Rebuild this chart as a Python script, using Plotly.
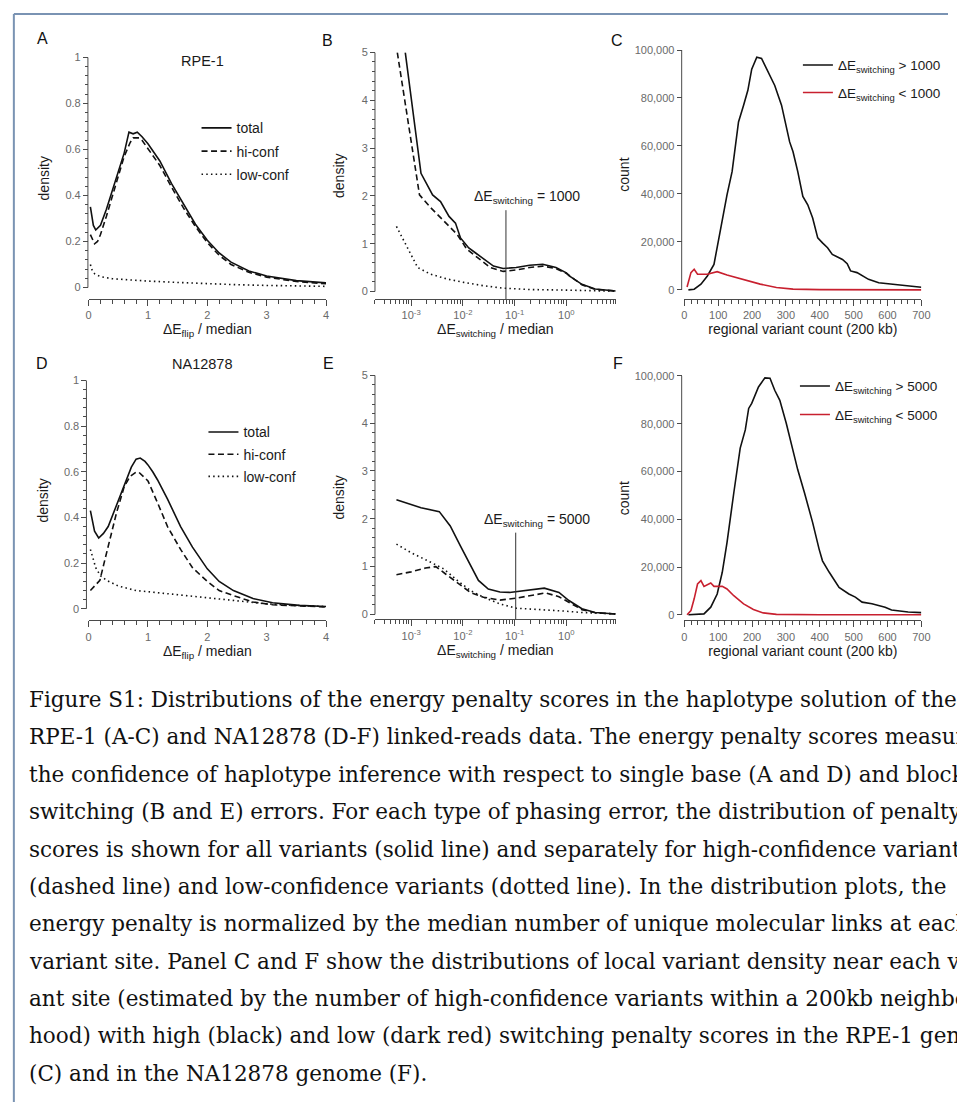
import math
import plotly.graph_objects as go

W, H = 957, 1103

# ---------------- data ----------------
# Panel A (RPE-1, dE_flip / median)
A_x_total = [0.03, 0.08, 0.12, 0.2, 0.3, 0.4, 0.5, 0.6, 0.68, 0.75, 0.82, 0.9, 1.0, 1.2, 1.4, 1.6, 1.8, 2.0, 2.2, 2.4, 2.7, 3.0, 3.5, 4.0]
A_total = [0.35, 0.27, 0.25, 0.27, 0.34, 0.42, 0.50, 0.585, 0.675, 0.668, 0.675, 0.655, 0.625, 0.55, 0.45, 0.36, 0.275, 0.205, 0.15, 0.11, 0.072, 0.05, 0.03, 0.02]
A_x_hi = [0.03, 0.1, 0.15, 0.2, 0.3, 0.4, 0.5, 0.6, 0.7, 0.75, 0.8, 0.85, 0.9, 1.0, 1.2, 1.4, 1.6, 1.8, 2.0, 2.2, 2.4, 2.7, 3.0, 3.5, 4.0]
A_hi = [0.23, 0.19, 0.20, 0.23, 0.31, 0.40, 0.49, 0.57, 0.63, 0.65, 0.65, 0.65, 0.64, 0.605, 0.53, 0.435, 0.345, 0.265, 0.195, 0.14, 0.10, 0.066, 0.045, 0.026, 0.016]
A_x_low = [0.03, 0.06, 0.1, 0.2, 0.4, 0.7, 1.0, 1.5, 2.0, 2.5, 3.0, 3.5, 4.0]
A_low = [0.10, 0.075, 0.06, 0.047, 0.038, 0.032, 0.028, 0.022, 0.016, 0.012, 0.009, 0.007, 0.005]

# Panel D (NA12878, dE_flip / median)
D_x_total = [0.03, 0.1, 0.17, 0.25, 0.33, 0.45, 0.55, 0.65, 0.72, 0.8, 0.87, 0.95, 1.0, 1.08, 1.16, 1.33, 1.55, 1.75, 2.0, 2.2, 2.44, 2.77, 3.1, 3.55, 4.0]
D_total = [0.43, 0.34, 0.31, 0.33, 0.36, 0.44, 0.51, 0.58, 0.62, 0.655, 0.66, 0.645, 0.63, 0.60, 0.565, 0.48, 0.36, 0.27, 0.175, 0.12, 0.08, 0.045, 0.027, 0.015, 0.01]
D_x_hi = [0.03, 0.1, 0.19, 0.26, 0.33, 0.47, 0.6, 0.7, 0.8, 0.85, 0.92, 1.0, 1.16, 1.33, 1.55, 1.75, 2.0, 2.2, 2.44, 2.77, 3.1, 3.55, 4.0]
D_hi = [0.08, 0.10, 0.125, 0.20, 0.275, 0.42, 0.535, 0.58, 0.598, 0.597, 0.58, 0.56, 0.465, 0.36, 0.26, 0.18, 0.12, 0.08, 0.058, 0.03, 0.018, 0.012, 0.008]
D_x_low = [0.03, 0.08, 0.12, 0.2, 0.3, 0.5, 0.8, 1.0, 1.5, 2.0, 2.5, 3.0, 3.5, 4.0]
D_low = [0.26, 0.21, 0.18, 0.145, 0.125, 0.10, 0.08, 0.075, 0.062, 0.048, 0.035, 0.022, 0.015, 0.01]

# Panel B (RPE-1, dE_switching / median, log x)
B_x_total = [7.7e-4, 1.55e-3, 2.6e-3, 3.7e-3, 5.4e-3, 7.2e-3, 9e-3, 0.013, 0.0174, 0.025, 0.039, 0.06, 0.107, 0.195, 0.35, 0.63, 1.0, 1.12, 2.0, 3.6, 9.0]
B_total = [5.0, 2.47, 2.02, 1.88, 1.57, 1.43, 1.12, 0.91, 0.81, 0.69, 0.53, 0.48, 0.50, 0.55, 0.57, 0.50, 0.39, 0.33, 0.15, 0.05, 0.01]
B_x_hi = [5.4e-4, 1.45e-3, 2.4e-3, 4.3e-3, 7.8e-3, 0.012, 0.0187, 0.034, 0.06, 0.107, 0.195, 0.35, 0.63, 1.0, 2.0, 3.6, 9.0]
B_hi = [5.0, 2.02, 1.75, 1.47, 1.19, 0.88, 0.71, 0.50, 0.42, 0.45, 0.50, 0.53, 0.48, 0.38, 0.14, 0.045, 0.01]
B_x_low = [5.2e-4, 8.7e-4, 1.34e-3, 2.4e-3, 5e-3, 0.0105, 0.025, 0.06, 0.195, 0.9, 3.0, 9.0]
B_low = [1.36, 0.91, 0.50, 0.36, 0.26, 0.19, 0.12, 0.07, 0.04, 0.03, 0.01, 0.005]
B_threshold = 0.068
B_threshold_top = 1.70

# Panel E (NA12878, dE_switching / median, log x)
E_x_total = [5.2e-4, 1.55e-3, 3.5e-3, 5.7e-3, 9e-3, 0.014, 0.02, 0.031, 0.052, 0.08, 0.168, 0.375, 0.72, 1.12, 2.0, 3.6, 9.0]
E_total = [2.40, 2.23, 2.15, 1.85, 1.43, 1.02, 0.71, 0.53, 0.47, 0.46, 0.50, 0.55, 0.46, 0.29, 0.12, 0.04, 0.01]
E_x_hi = [5.2e-4, 1e-3, 1.9e-3, 3e-3, 4.7e-3, 7.8e-3, 0.014, 0.025, 0.052, 0.107, 0.195, 0.40, 0.72, 1.12, 2.0, 3.6, 9.0]
E_hi = [0.83, 0.89, 0.97, 1.0, 0.84, 0.66, 0.46, 0.36, 0.30, 0.34, 0.39, 0.45, 0.37, 0.25, 0.10, 0.035, 0.008]
E_x_low = [5.2e-4, 1e-3, 2.4e-3, 4.3e-3, 7.8e-3, 0.014, 0.025, 0.052, 0.107, 0.25, 0.9, 2.0, 5.0, 9.0]
E_low = [1.47, 1.29, 1.09, 0.95, 0.71, 0.50, 0.36, 0.22, 0.13, 0.11, 0.07, 0.04, 0.02, 0.01]
E_threshold = 0.105
E_threshold_top = 1.71

# Panel C (RPE-1 regional variant count)
C_x_high = [12, 29, 49, 68, 87.5, 102, 112, 126, 141, 160, 175, 187.6, 199, 214, 228, 253, 267, 287, 311, 321, 335, 350, 364.5, 379, 394, 408, 423, 437, 467, 481, 491, 510, 544, 574, 612, 651, 690, 700]
C_high = [0, 300, 2400, 5800, 10600, 21700, 28600, 39600, 49300, 70000, 77000, 83200, 92000, 97000, 96500, 89400, 85200, 77000, 61700, 57600, 49300, 39000, 35500, 30000, 21700, 19600, 17600, 14800, 12700, 10900, 7900, 7200, 4400, 3000, 2400, 1700, 1200, 1100]
C_x_low = [8, 19.5, 29, 39, 68, 97, 126, 175, 224, 272, 321, 400, 500, 700]
C_low = [1200, 7200, 8600, 6500, 6500, 7600, 6200, 4400, 2400, 1000, 300, 100, 0, 0]

# Panel F (NA12878 regional variant count)
F_x_high = [12, 58, 78, 97, 112, 126, 146, 165, 180, 190, 199, 219, 238, 253, 267, 282, 301, 321, 335, 355, 379, 398, 408, 428, 457, 486, 505, 525, 554, 593, 612, 661, 700]
F_high = [0, 400, 3200, 8700, 17800, 30200, 51000, 69800, 77400, 86400, 88500, 95400, 99200, 99000, 94000, 89800, 80200, 69000, 60700, 51000, 38600, 27500, 22600, 17800, 11500, 8700, 7400, 5300, 4600, 3200, 2000, 1200, 900]
F_x_low = [8, 19.5, 29, 39, 49, 58, 78, 87.5, 112, 126, 146, 175, 204, 233, 272, 400, 700]
F_low = [0, 1800, 6700, 12900, 14300, 11900, 13300, 11900, 11900, 10800, 8000, 4600, 2200, 800, 200, 0, 0]

# tick labels
density_ticks_flip = [0, 0.2, 0.4, 0.6, 0.8, 1]
density_ticks_switch = [0, 1, 2, 3, 4, 5]
flip_xticks = [0, 1, 2, 3, 4]
switch_xticks = [1e-3, 1e-2, 1e-1, 1]
switch_xticktext = ["10<sup>-3</sup>", "10<sup>-2</sup>", "10<sup>-1</sup>", "10<sup>0</sup>"]
count_yticks = [0, 20000, 40000, 60000, 80000, 100000]
count_xticks = [0, 100, 200, 300, 400, 500, 600, 700]

legend_names_conf = ["total", "hi-conf", "low-conf"]

caption_lines = [
    "Figure S1: Distributions of the energy penalty scores in the haplotype solution of the",
    "RPE-1 (A-C) and NA12878 (D-F) linked-reads data. The energy penalty scores measure",
    "the confidence of haplotype inference with respect to single base (A and D) and block",
    "switching (B and E) errors. For each type of phasing error, the distribution of penalty",
    "scores is shown for all variants (solid line) and separately for high-confidence variants",
    "(dashed line) and low-confidence variants (dotted line). In the distribution plots, the",
    "energy penalty is normalized by the median number of unique molecular links at each",
    "variant site. Panel C and F show the distributions of local variant density near each vari-",
    "ant site (estimated by the number of high-confidence variants within a 200kb neighbor-",
    "hood) with high (black) and low (dark red) switching penalty scores in the RPE-1 genome",
    "(C) and in the NA12878 genome (F).",
]

# ---------------- styling ----------------
SANS = "Liberation Sans, Arial, sans-serif"
SERIF = "DejaVu Serif, serif"
AXC = "#4a4a4a"
TICKC = "#6a6a6a"
BLACK = "#111111"
RED = "#c8202f"
LW = 1.6
DASH = "6px,3.5px"
DOT = "1.5px,3.2px"


def px(x):
    return x / W


def py(y):
    return 1 - y / H


# panel geometry in pixels
panels = [
    dict(n=1, xl=86.7, xr=327.1, yline=86.0, ytop=51.7, yzero=283.3, axis=295.0, ymax=1.0, xr_=[0, 4], log=False),
    dict(n=2, xl=376.7, xr=620.5, yline=376.7, ytop=46.7, yzero=287.3, axis=295.0, ymax=5.0,
         xr_=[math.log10(2e-4), math.log10(9)], log=True),
    dict(n=3, xl=690.0, xr=930.0, yline=687.3, ytop=44.3, yzero=285.7, axis=295.0, ymax=100000, xr_=[0, 700], log=False),
    dict(n=4, xl=86.7, xr=327.1, yline=84.5, ytop=376.7, yzero=606.7, axis=618.3, ymax=1.0, xr_=[0, 4], log=False),
    dict(n=5, xl=376.7, xr=620.5, yline=376.7, ytop=371.7, yzero=612.3, axis=617.3, ymax=5.0,
         xr_=[math.log10(2e-4), math.log10(9)], log=True),
    dict(n=6, xl=690.0, xr=930.0, yline=687.3, ytop=372.3, yzero=612.7, axis=618.3, ymax=100000, xr_=[0, 700], log=False),
]

fig = go.Figure()
layout = dict(
    width=W, height=H, autosize=False,
    margin=dict(l=0, r=0, t=0, b=0),
    paper_bgcolor="white", plot_bgcolor="white",
    font=dict(family=SANS, color=BLACK),
    showlegend=True,
)
shapes = []
annotations = []

tickfont = dict(family=SANS, size=11, color=TICKC)
titlefont = dict(family=SANS, size=14, color="#1a1a1a")

log_minor = [k * 10 ** e for e in range(-4, 1) for k in range(2, 10) if 2e-4 <= k * 10 ** e <= 9]

for p in panels:
    n = p["n"]
    sfx = "" if n == 1 else str(n)
    ppu = (p["yzero"] - p["ytop"]) / p["ymax"]
    ymin = -(p["axis"] - p["yzero"]) / ppu
    xd = [px(p["xl"]), px(p["xr"])]
    yd = [py(p["axis"]), py(p["ytop"])]
    xa = dict(domain=xd, range=p["xr_"], anchor="y" + sfx, showline=True, linecolor=AXC, linewidth=1,
              ticks="outside", ticklen=6, tickwidth=1, tickcolor=AXC, tickfont=tickfont,
              showgrid=False, zeroline=False, title=dict(font=titlefont))
    ya = dict(domain=yd, range=[ymin, p["ymax"]], anchor="free", position=px(p["yline"]),
              showline=False, ticks="outside", ticklen=5, tickwidth=1, tickcolor=AXC,
              tickfont=tickfont, showgrid=False, zeroline=False, title=dict(font=titlefont))
    if n in (1, 4):
        xa.update(tickmode="array", tickvals=flip_xticks,
                  minor=dict(tickmode="array", tickvals=[i * 0.2 for i in range(21)], ticks="outside",
                             ticklen=3.5, tickcolor=AXC))
        xa["title"]["text"] = "ΔE<sub>flip</sub> / median"
        xa["title"]["standoff"] = 3
        ya.update(tickmode="array", tickvals=density_ticks_flip,
                  minor=dict(tickmode="array", tickvals=[i * 0.04 for i in range(26)], ticks="outside",
                             ticklen=3, tickcolor=AXC))
        ya["title"]["text"] = "density"
        ya["title"]["standoff"] = 11
    elif n in (2, 5):
        xa.update(type="log", tickmode="array", tickvals=switch_xticks, ticktext=switch_xticktext,
                  minor=dict(tickmode="array", tickvals=log_minor, ticks="outside", ticklen=3.5, tickcolor=AXC))
        xa["title"]["text"] = "ΔE<sub>switching</sub> / median"
        xa["title"]["standoff"] = 2
        ya.update(tickmode="array", tickvals=density_ticks_switch,
                  minor=dict(tickmode="array", tickvals=[i * 0.2 for i in range(26)], ticks="outside",
                             ticklen=3, tickcolor=AXC))
        ya["title"]["text"] = "density"
        ya["title"]["standoff"] = 12
    else:
        xa.update(tickmode="array", tickvals=count_xticks,
                  minor=dict(tickmode="array", tickvals=list(range(0, 701, 20)), ticks="outside",
                             ticklen=3.5, tickcolor=AXC))
        xa["title"]["text"] = "regional variant count (200 kb)"
        xa["title"]["standoff"] = 3
        ya.update(tickmode="array", tickvals=count_yticks, tickformat=",")
        ya["title"]["text"] = "count"
        ya["title"]["standoff"] = 0
    layout["xaxis" + sfx] = xa
    layout["yaxis" + sfx] = ya
    # y-axis line only spanning the tick range (R style)
    frac = (p["yline"] - p["xl"]) / (p["xr"] - p["xl"])
    shapes.append(dict(type="line", xref=("x" + sfx + " domain"), yref="y" + sfx,
                       x0=frac, x1=frac, y0=0, y1=p["ymax"], line=dict(color=AXC, width=1)))


def add_conf(n, xs, ys, names, legend):
    sfx = "" if n == 1 else str(n)
    styles = [dict(color=BLACK, width=LW), dict(color=BLACK, width=LW, dash=DASH),
              dict(color=BLACK, width=1.6, dash=DOT)]
    for i in range(3):
        fig.add_trace(go.Scatter(x=xs[i], y=ys[i], mode="lines", name=names[i], line=styles[i],
                                 xaxis="x" + sfx, yaxis="y" + sfx, showlegend=legend is not None,
                                 legend=legend or "legend", legendgroup=f"g{n}_{i}", hoverinfo="skip"))


add_conf(1, [A_x_total, A_x_hi, A_x_low], [A_total, A_hi, A_low], legend_names_conf, "legend")
add_conf(2, [B_x_total, B_x_hi, B_x_low], [B_total, B_hi, B_low], legend_names_conf, None)
add_conf(4, [D_x_total, D_x_hi, D_x_low], [D_total, D_hi, D_low], legend_names_conf, "legend2")
add_conf(5, [E_x_total, E_x_hi, E_x_low], [E_total, E_hi, E_low], legend_names_conf, None)


def add_counts(n, xh, yh, xl_, yl_, thr, legend):
    sfx = str(n)
    fig.add_trace(go.Scatter(x=xh, y=yh, mode="lines", line=dict(color=BLACK, width=LW),
                             name=f"ΔE<sub>switching</sub> &gt; {thr}", xaxis="x" + sfx, yaxis="y" + sfx,
                             legend=legend, legendgroup=f"h{n}", hoverinfo="skip"))
    fig.add_trace(go.Scatter(x=xl_, y=yl_, mode="lines", line=dict(color=RED, width=LW),
                             name=f"ΔE<sub>switching</sub> &lt; {thr}", xaxis="x" + sfx, yaxis="y" + sfx,
                             legend=legend, legendgroup=f"l{n}", hoverinfo="skip"))


add_counts(3, C_x_high, C_high, C_x_low, C_low, 1000, "legend3")
add_counts(6, F_x_high, F_high, F_x_low, F_low, 5000, "legend4")

# threshold lines in switching panels
for n, thr, top, lab in [(2, B_threshold, B_threshold_top, 1000), (5, E_threshold, E_threshold_top, 5000)]:
    p = panels[n - 1]
    ppu = (p["yzero"] - p["ytop"]) / p["ymax"]
    ymin = -(p["axis"] - p["yzero"]) / ppu
    shapes.append(dict(type="line", xref=f"x{n}", yref=f"y{n}", x0=thr, x1=thr, y0=ymin, y1=top,
                       line=dict(color="#333333", width=1)))
    annotations.append(dict(xref=f"x{n}", yref=f"y{n}", x=math.log10(thr), y=top + 0.27, xshift=21,
                            text=f"ΔE<sub>switching</sub> = {lab}", showarrow=False,
                            font=dict(family=SANS, size=14, color="#1a1a1a"), xanchor="center", yanchor="middle"))

legend_common = dict(bgcolor="rgba(0,0,0,0)", borderwidth=0, xanchor="left", yanchor="top",
                     font=dict(family=SANS, size=14, color="#1a1a1a"), itemwidth=30, traceorder="grouped")
layout["legend"] = dict(legend_common, x=px(196), y=py(107), tracegroupgap=2)
layout["legend2"] = dict(legend_common, x=px(203), y=py(413), tracegroupgap=1)
layout["legend3"] = dict(legend_common, x=px(805), y=py(44), tracegroupgap=7,
                         font=dict(family=SANS, size=13.5, color="#1a1a1a"))
layout["legend4"] = dict(legend_common, x=px(802), y=py(367), tracegroupgap=8,
                         font=dict(family=SANS, size=13.5, color="#1a1a1a"))

# panel letters and titles
for letter, x, y in [("A", 40, 33), ("B", 329, 35), ("C", 622, 35), ("D", 40, 360), ("E", 330, 360), ("F", 623, 360)]:
    annotations.append(dict(xref="paper", yref="paper", x=px(x), y=py(y), text=letter, showarrow=False,
                            font=dict(family=SANS, size=16, color="#111"), xanchor="center", yanchor="middle"))
for t, x, y in [("RPE-1", 202, 55), ("NA12878", 202, 360)]:
    annotations.append(dict(xref="paper", yref="paper", x=px(x), y=py(y), text=t, showarrow=False,
                            font=dict(family=SANS, size=14.5, color="#1a1a1a"), xanchor="center", yanchor="middle"))

# caption
for i, line in enumerate(caption_lines):
    base = 705 + 37.6 * i
    annotations.append(dict(xref="paper", yref="paper", x=px(24), y=py(base - 7), text=line, showarrow=False,
                            font=dict(family=SERIF, size=21.5, color="#111"), xanchor="left", yanchor="middle",
                            align="left"))

# page border
shapes.append(dict(type="line", xref="paper", yref="paper", x0=px(11), x1=1.0, y0=py(8), y1=py(8),
                   line=dict(color="#7a93b3", width=2)))
shapes.append(dict(type="line", xref="paper", yref="paper", x0=px(11), x1=px(11), y0=py(8), y1=0,
                   line=dict(color="#7a93b3", width=2)))

layout["shapes"] = shapes
layout["annotations"] = annotations
fig.update_layout(**layout)
fig.write_html("out.html", config={"displayModeBar": False, "staticPlot": True},
               post_script="document.body.style.margin='0';document.body.style.overflow='hidden';")
